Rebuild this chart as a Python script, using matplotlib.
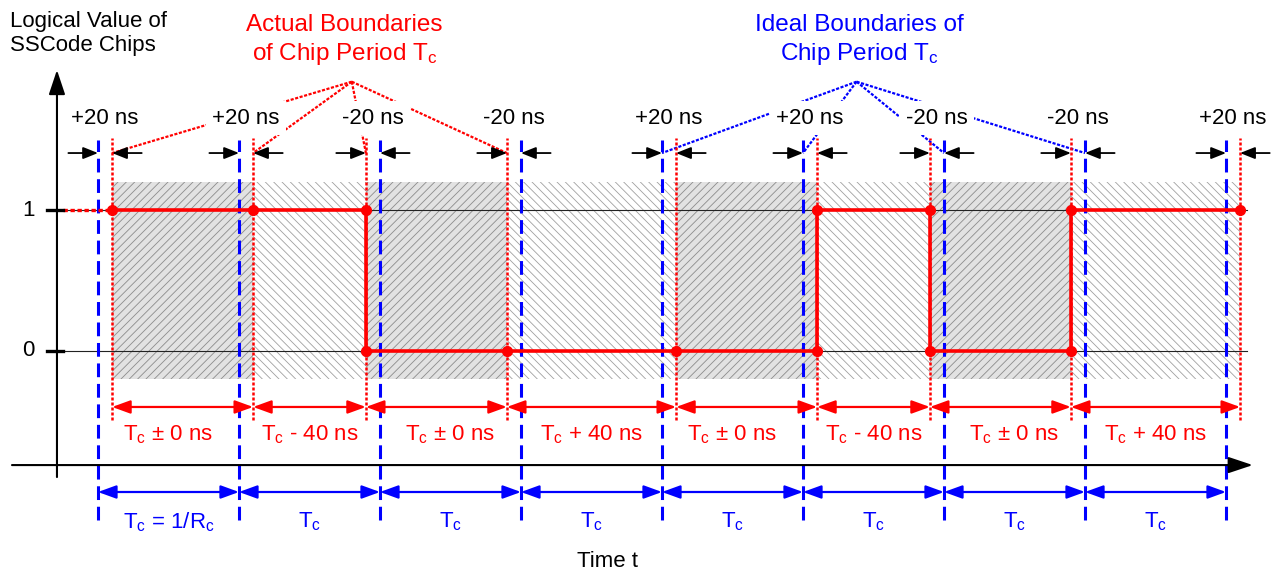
import matplotlib.pyplot as plt
from matplotlib.patches import Rectangle, FancyArrowPatch

plt.rcParams["font.family"] = ["Liberation Sans", "DejaVu Sans"]
plt.rcParams["mathtext.fontset"] = "custom"
plt.rcParams["mathtext.rm"] = "Liberation Sans"
plt.rcParams["mathtext.it"] = "Liberation Sans"
plt.rcParams["mathtext.default"] = "rm"
plt.rcParams["hatch.linewidth"] = 0.6

# logical value of each chip and offset of each actual boundary (ns)
chip_values = [1, 1, 0, 0, 0, 1, 0, 1]
offsets_ns = [20, 20, -20, -20, 20, 20, -20, -20, 20]
ideal_labels = [r"T$_{c}$ = 1/R$_{c}$"] + [r"T$_{c}$"] * 7
ns_per_tc = 200  # drawing scale: 20 ns is shown as 0.1 Tc

RED = "#ff0000"
BLUE = "#0000ff"
PX = 141.0  # pixels per Tc / per logic level

ideal = list(range(len(offsets_ns)))
actual = [k + o / ns_per_tc for k, o in zip(ideal, offsets_ns)]

fig = plt.figure(figsize=(12.79, 5.71), dpi=100)
ax = fig.add_axes([0, 0, 1, 1])
ax.set_xlim(-98 / PX, (1279 - 98) / PX)
ax.set_ylim((351 - 571) / PX, 351 / PX)
ax.axis("off")


def arrow(p0, p1, color, style, lw, hl, hw, z=6):
    ax.add_patch(FancyArrowPatch(
        p0, p1,
        arrowstyle=f"{style},head_length={hl},head_width={hw}",
        color=color, lw=lw, shrinkA=0, shrinkB=0, mutation_scale=1, zorder=z))


# shaded chip periods
for k in range(len(chip_values)):
    if k % 2 == 0:
        fc, hatch, ec = "#e2e2e2", "////", "#8c8c8c"
    else:
        fc, hatch, ec = "white", "\\\\\\\\", "#a0a0a0"
    ax.add_patch(Rectangle((actual[k], -0.2), actual[k + 1] - actual[k], 1.4,
                           facecolor=fc, edgecolor=ec, hatch=hatch, lw=0, zorder=1))

# level lines and y ticks
for lvl in (0, 1):
    ax.plot([-0.248, 8.15], [lvl, lvl], color="#222222", lw=0.8, zorder=2)
    ax.plot([-0.362, -0.248], [lvl, lvl], color="black", lw=2.4, zorder=6)
    ax.text(-0.496, lvl, str(lvl), fontsize=16, ha="center", va="center")

# axes
arrow((-0.291, -0.894), (-0.291, 1.993), "black", "-|>", 1.5, 15, 5)
arrow((-0.61, -0.809), (8.19, -0.809), "black", "-|>", 1.5, 15, 5)

# blue ideal boundaries, red actual boundaries
for x in ideal:
    ax.plot([x, x], [-1.20, 1.50], color=BLUE, lw=2.2, dashes=(4.5, 2.2), zorder=3)
for x in actual:
    ax.plot([x, x], [-0.49, 1.51], color=RED, lw=1.8, dashes=(1.2, 0.8), zorder=3)

# the chip sequence
ax.plot([-0.248, actual[0]], [chip_values[0]] * 2, color=RED, lw=2.4,
        dashes=(1.3, 0.8), zorder=4)
ax.plot(actual, chip_values + [chip_values[-1]], color=RED, lw=2.6,
        drawstyle="steps-post", zorder=4)
for k, x in enumerate(actual):
    lv = {chip_values[max(k - 1, 0)], chip_values[min(k, len(chip_values) - 1)]}
    ax.plot([x] * len(lv), sorted(lv), "o", color=RED, ms=7, zorder=5)

# offset markers
for k, o in enumerate(offsets_ns):
    lo, hi = min(ideal[k], actual[k]), max(ideal[k], actual[k])
    arrow((lo - 0.21, 1.404), (lo, 1.404), "black", "-|>", 1.3, 9, 3.6)
    arrow((hi + 0.21, 1.404), (hi, 1.404), "black", "-|>", 1.3, 9, 3.6)
    ax.text((lo + hi) / 2, 1.652, f"{o:+d} ns", fontsize=16, ha="center",
            va="center", zorder=8,
            bbox=dict(boxstyle="square,pad=0.3", fc="white", ec="none"))

# actual chip period durations
for k in range(len(chip_values)):
    d = offsets_ns[k + 1] - offsets_ns[k]
    if d == 0:
        txt = r"T$_{c}$ ± 0 ns"
        xc = k + 0.5
    else:
        txt = r"T$_{c}$ " + ("+" if d > 0 else "-") + f" {abs(d)} ns"
        xc = (actual[k] + actual[k + 1]) / 2
    arrow((actual[k], -0.397), (actual[k + 1], -0.397), RED, "<|-|>", 1.6, 11, 4)
    ax.text(xc, -0.596, txt, color=RED, fontsize=16, ha="center", va="center")

# ideal chip period durations
for k, lab in enumerate(ideal_labels):
    arrow((ideal[k], -1.0), (ideal[k + 1], -1.0), BLUE, "<|-|>", 1.6, 11, 4)
    ax.text(k + 0.5, -1.213, lab, color=BLUE, fontsize=16, ha="center", va="center")

# leaders
red_hub = (1.80, 1.91)
for x in actual[:4]:
    ax.plot([red_hub[0], x], [red_hub[1], 1.404], color=RED, lw=1.6,
            dashes=(1.4, 0.7), zorder=2)
blue_hub = (5.38, 1.91)
for x in ideal[4:8]:
    ax.plot([blue_hub[0], x], [blue_hub[1], 1.404], color=BLUE, lw=1.6,
            dashes=(1.4, 0.7), zorder=2)

ax.text(1.75, 2.20, "Actual Boundaries\nof Chip Period T$_{c}$", color=RED,
        fontsize=17.5, ha="center", va="center", linespacing=1.25)
ax.text(5.40, 2.20, "Ideal Boundaries of\nChip Period T$_{c}$", color=BLUE,
        fontsize=17.5, ha="center", va="center", linespacing=1.25)
ax.text(-0.624, 2.25, "Logical Value of\nSSCode Chips", fontsize=16,
        ha="left", va="center", linespacing=1.2)
ax.text(3.617, -1.49, "Time t", fontsize=16, ha="center", va="center")

fig.savefig("out.png", dpi=100)
